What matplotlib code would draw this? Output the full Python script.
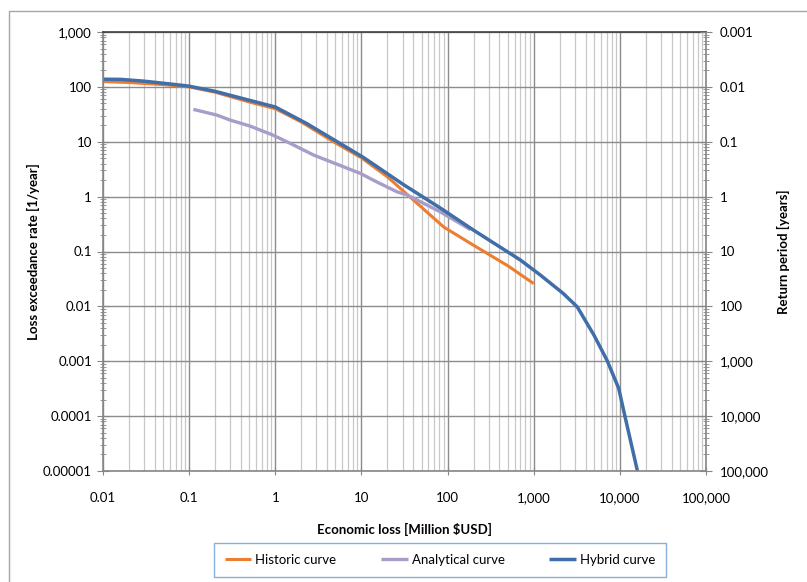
import numpy as np
import matplotlib.pyplot as plt
from matplotlib.ticker import FixedLocator, FuncFormatter, LogLocator
from matplotlib.patches import Rectangle

plt.rcParams['font.family'] = ['Lato', 'DejaVu Sans']

# loss [million USD] vs annual exceedance rate
hist_loss = [0.01, 0.02, 0.05, 0.1, 0.2, 0.5, 1, 2, 5, 10, 20, 35, 90, 200, 500, 1000]
hist_rate = [125, 120, 110, 100, 80, 53, 40, 23, 9.5, 5.1, 2.3, 1.05, 0.28, 0.13, 0.055, 0.026]

anal_loss = [0.112, 0.21, 0.30, 0.51, 0.94, 1.5, 2.8, 5.2, 9.7, 15, 26, 34, 82, 185]
anal_rate = [38.9, 30.6, 24.8, 19.3, 13.2, 9.3, 5.7, 3.9, 2.65, 1.86, 1.22, 1.07, 0.53, 0.25]

hyb_loss = [0.01, 0.016, 0.03, 0.06, 0.1, 0.2, 0.5, 1, 2.3, 6, 10.5, 30, 85, 200,
            700, 1200, 2200, 3200, 5000, 7100, 9700, 11500, 16000]
hyb_rate = [138, 137, 127, 113, 103, 83, 57, 43, 21.6, 8.8, 5.2, 1.7, 0.6, 0.245,
            0.07, 0.037, 0.0172, 0.0098, 0.003, 0.00104, 0.00032, 0.0000966, 0.00001]

x_ticks = [0.01, 0.1, 1, 10, 100, 1000, 10000, 100000]
y_ticks = [1e-5, 1e-4, 1e-3, 1e-2, 0.1, 1, 10, 100, 1000]


def fmt(v):
    if v >= 1:
        return f"{v:,.0f}"
    return np.format_float_positional(v, trim='-')


fig = plt.figure(figsize=(8.07, 5.82), dpi=100)
fig.patches.append(Rectangle((9 / 807, -0.05), 1.2, 1 - 11 / 582 + 0.05, transform=fig.transFigure,
                             fill=False, edgecolor='#a6a6a6', linewidth=1.0))
ax = fig.add_axes([103 / 807, 1 - 471 / 582, 603 / 807, 439 / 582])

ax.plot(hist_loss, hist_rate, color='#ed7d31', lw=2.2, label='Historic curve', solid_capstyle='butt')
ax.plot(anal_loss, anal_rate, color='#a89cc8', lw=2.4, label='Analytical curve', solid_capstyle='butt')
ax.plot(hyb_loss, hyb_rate, color='#3f6ea8', lw=2.5, label='Hybrid curve', solid_capstyle='butt')

ax.set_xscale('log')
ax.set_yscale('log')
ax.set_xlim(0.01, 100000)
ax.set_ylim(1e-5, 1000)

ax.xaxis.set_major_locator(FixedLocator(x_ticks))
ax.xaxis.set_minor_locator(LogLocator(base=10, subs=np.arange(2, 10), numticks=20))
ax.xaxis.set_major_formatter(FuncFormatter(lambda v, p: fmt(v)))
ax.yaxis.set_major_locator(FixedLocator(y_ticks))
ax.yaxis.set_minor_locator(LogLocator(base=10, subs=np.arange(2, 10), numticks=20))
ax.yaxis.set_major_formatter(FuncFormatter(lambda v, p: fmt(v)))

ax.grid(which='major', axis='both', color='#8c8c8c', lw=1.0)
ax.grid(which='minor', axis='x', color='#c8c8c8', lw=0.9)
ax.set_axisbelow(True)

ax.tick_params(axis='x', which='major', direction='inout', length=6, color='#868686',
               labelsize=9.5, pad=12)
ax.tick_params(axis='x', which='minor', length=0)
ax.tick_params(axis='y', which='major', direction='inout', length=8, color='#868686',
               labelsize=9.5, pad=4)
ax.tick_params(axis='y', which='minor', direction='inout', length=5, color='#868686')

for s in ['left', 'right', 'bottom']:
    ax.spines[s].set_color('#868686')
    ax.spines[s].set_linewidth(1.2)
ax.spines['top'].set_color('#404040')
ax.spines['top'].set_linewidth(1.2)

# return period on the right is 1 / rate
ax2 = ax.twinx()
ax2.set_yscale('log')
ax2.set_ylim(ax.get_ylim())
ax2.yaxis.set_major_locator(FixedLocator(y_ticks))
ax2.yaxis.set_minor_locator(LogLocator(base=10, subs=np.arange(2, 10), numticks=20))
ax2.yaxis.set_major_formatter(FuncFormatter(lambda v, p: fmt(1 / v)))
ax2.tick_params(axis='y', which='major', direction='inout', length=8, color='#868686',
                labelsize=9.5, pad=6)
ax2.tick_params(axis='y', which='minor', direction='inout', length=5, color='#868686')
for s in ax2.spines.values():
    s.set_visible(False)

ax.set_xlabel('Economic loss [Million $USD]', fontsize=9.5, fontweight='bold', labelpad=14)
ax.set_ylabel('Loss exceedance rate [1/year]', fontsize=9.5, fontweight='bold', labelpad=2)
ax2.set_ylabel('Return period [years]', fontsize=9.5, fontweight='bold', labelpad=6)

leg = fig.legend(*ax.get_legend_handles_labels(), loc='center', ncol=3,
                 bbox_to_anchor=(440 / 807, 1 - 560 / 582), fontsize=9.5, frameon=True,
                 fancybox=False, edgecolor='#6a9bd1', handlelength=2.0, handletextpad=0.3,
                 columnspacing=3.4, borderpad=0.8, borderaxespad=0)
leg.get_frame().set_linewidth(1.0)

fig.savefig('out.png', dpi=100)
